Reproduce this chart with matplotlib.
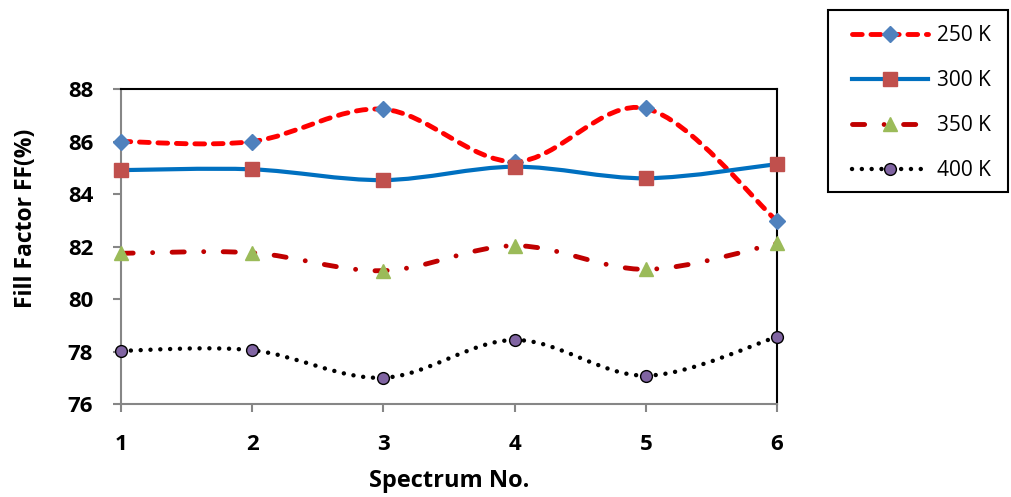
import matplotlib
matplotlib.use("Agg")
import matplotlib.pyplot as plt
from matplotlib.path import Path
from matplotlib.patches import PathPatch, Rectangle
from matplotlib.lines import Line2D

plt.rcParams['font.family'] = ['Open Sans', 'DejaVu Sans']

# data
spectrum = [1, 2, 3, 4, 5, 6]
ff_250 = [86.0, 86.0, 87.23, 85.23, 87.26, 82.97]
ff_300 = [84.91, 84.94, 84.53, 85.04, 84.60, 85.14]
ff_350 = [81.74, 81.76, 81.08, 82.03, 81.13, 82.12]
ff_400 = [78.03, 78.05, 77.0, 78.44, 77.08, 78.56]
labels = ['250 K', '300 K', '350 K', '400 K']


def smooth_path(xs, ys):
    # excel-like smoothed line: cubic bezier through the points
    pts = list(zip(xs, ys))
    n = len(pts)
    verts = [pts[0]]
    codes = [Path.MOVETO]
    for i in range(n - 1):
        p0 = pts[i - 1] if i > 0 else pts[i]
        p1 = pts[i]
        p2 = pts[i + 1]
        p3 = pts[i + 2] if i + 2 < n else pts[i + 1]
        c1 = (p1[0] + (p2[0] - p0[0]) / 6, p1[1] + (p2[1] - p0[1]) / 6)
        c2 = (p2[0] - (p3[0] - p1[0]) / 6, p2[1] - (p3[1] - p1[1]) / 6)
        verts += [c1, c2, p2]
        codes += [Path.CURVE4] * 3
    return Path(verts, codes)


styles = [
    dict(color='#FF0000', ls=(0, (2.0, 1.8)), lw=3.5, marker='D', mfc='#4F81BD', mec='#4F81BD', ms=8),
    dict(color='#0070C0', ls='-', lw=3.0, marker='s', mfc='#C0504D', mec='#C0504D', ms=10),
    dict(color='#C00000', ls=(0, (2.5, 4, 0.01, 4)), lw=3.5, marker='^', mfc='#9BBB59', mec='#9BBB59', ms=10),
    dict(color='black', ls=(0, (0.01, 2.2)), lw=3.2, marker='o', mfc='#8064A2', mec='black', ms=8.5),
]
series = [ff_250, ff_300, ff_350, ff_400]

fig = plt.figure(figsize=(10.11, 4.97), dpi=100)
ax = fig.add_axes([0.1197, 0.1871, 0.6489, 0.6338])

handles = []
for ys, st in zip(series, styles):
    patch = PathPatch(smooth_path(spectrum, ys), fill=False, edgecolor=st['color'],
                      linestyle=st['ls'], linewidth=st['lw'], capstyle='round')
    ax.add_patch(patch)
    mk = ax.plot(spectrum, ys, ls='none', marker=st['marker'], ms=st['ms'],
                 mfc=st['mfc'], mec=st['mec'], clip_on=False, zorder=5)
    if st['marker'] == 'o':
        mk[0].set_markeredgewidth(1.0)
    handles.append(Line2D([], [], color=st['color'], ls=st['ls'], lw=st['lw'],
                          marker=st['marker'], ms=st['ms'], mfc=st['mfc'], mec=st['mec'],
                          mew=1.0, dash_capstyle='round'))

ax.set_xlim(1, 6)
ax.set_ylim(76, 88)
ax.set_xticks(spectrum)
ax.set_yticks(range(76, 89, 2))

for side in ['left', 'bottom']:
    ax.spines[side].set_color('#868686')
    ax.spines[side].set_linewidth(1.5)
for side in ['top', 'right']:
    ax.spines[side].set_color('black')
    ax.spines[side].set_linewidth(1.5)
ax.tick_params(axis='both', direction='out', length=6, width=1.5, color='#868686',
               labelsize=16)
ax.tick_params(axis='y', pad=14)
ax.tick_params(axis='x', pad=15.5)
for lab in ax.get_xticklabels() + ax.get_yticklabels():
    lab.set_fontweight('bold')

ax.set_xlabel('Spectrum No.', fontsize=17, fontweight='bold')
ax.set_ylabel('Fill Factor FF(%)', fontsize=16.5, fontweight='bold')
ax.xaxis.set_label_coords(0.5, -0.205)
ax.yaxis.set_label_coords(-0.126, 0.59)

# legend box sits outside the plot on the right
fig.patches.append(Rectangle((828 / 1011, 1 - 192 / 497), 180 / 1011, 182 / 497,
                             transform=fig.transFigure, fill=False, edgecolor='black',
                             linewidth=1.5))
leg = fig.legend(handles, labels, loc='upper left', bbox_to_anchor=(852 / 1011, 1 - 25 / 497),
                 fontsize=15, handlelength=3.65, labelspacing=1.15, borderpad=0,
                 handletextpad=0.45, borderaxespad=0, frameon=False)

fig.savefig('out.png', dpi=100)
